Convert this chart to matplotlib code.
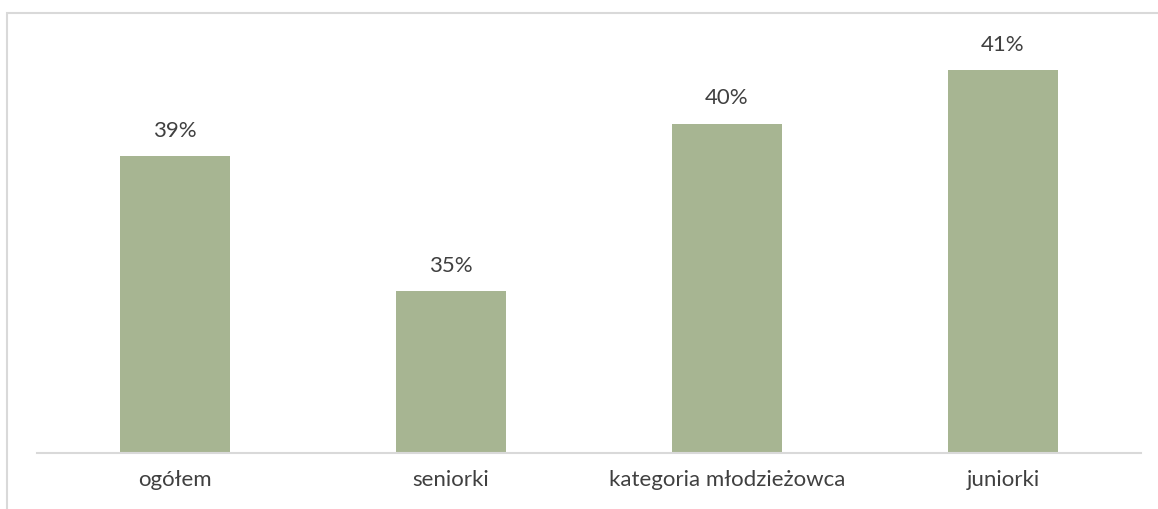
import matplotlib
matplotlib.use("Agg")
import matplotlib.pyplot as plt
from matplotlib.patches import Rectangle

# data (axis starts at 30%)
categories = ["ogółem", "seniorki", "kategoria młodzieżowca", "juniorki"]
values = [38.73, 34.76, 39.69, 41.26]
labels = ["39%", "35%", "40%", "41%"]

BAR = "#A7B592"
TXT = "#404040"
W, H = 1158, 509

plt.rcParams["font.family"] = ["Lato", "DejaVu Sans"]

fig = plt.figure(figsize=(W / 100, H / 100), dpi=100)
# plot area in pixel terms: x 37..1141, y 45..453 (from top)
ax = fig.add_axes([37 / W, 1 - 453 / H, (1141 - 37) / W, (453 - 45) / H])

x = range(len(categories))
ax.bar(x, [v - 30 for v in values], bottom=30, width=0.4, color=BAR, zorder=2)
for xi, v, lab in zip(x, values, labels):
    ax.annotate(lab, (xi, v), xytext=(0, 11), textcoords="offset points",
                ha="center", va="bottom", fontsize=16, color=TXT)

ax.set_xlim(-0.5, len(categories) - 0.5)
ax.set_ylim(30, 42)
ax.set_xticks(list(x))
ax.set_xticklabels(categories, fontsize=16, color=TXT)
ax.tick_params(axis="x", length=0, pad=12)
ax.set_yticks([])
for s in ["top", "left", "right"]:
    ax.spines[s].set_visible(False)
ax.spines["bottom"].set_color("#D9D9D9")
ax.spines["bottom"].set_linewidth(1.5)

# outer chart border (cropped at right and bottom in the reference)
fig.patches.append(Rectangle((7 / W, -0.1), 1.2, 1 - 13 / H + 0.1,
                             transform=fig.transFigure, fill=False,
                             edgecolor="#D9D9D9", lw=1.5))

fig.savefig("out.png", dpi=100)
